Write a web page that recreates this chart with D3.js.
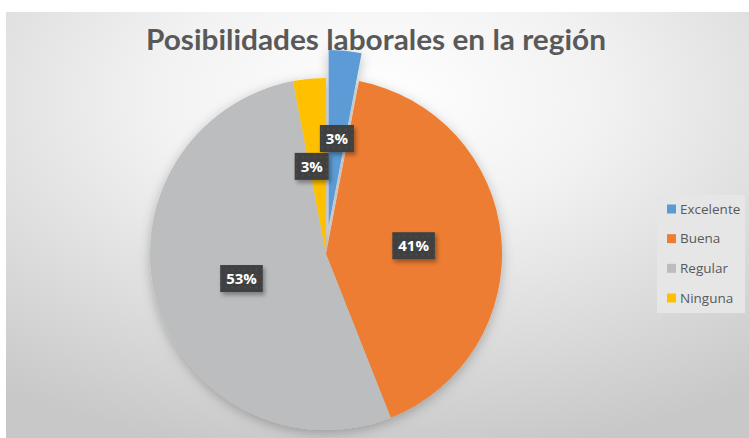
<!DOCTYPE html>
<meta charset="utf-8">
<style>
body { margin: 0; background: #fff; }
.title { font: bold 28px "Lato", sans-serif; fill: #595959; }
.lbl { font: bold 15px "Open Sans", sans-serif; fill: #fff; }
.legend text { font: 13.5px "Open Sans", sans-serif; fill: #595959; }
</style>
<body>
<svg id="chart" width="749" height="438"></svg>
<script src="https://d3js.org/d3.v7.min.js"></script>
<script>

var categories = ["Excelente", "Buena", "Regular", "Ninguna"];
var values = [3, 41, 53, 3];
var colors = ["#5b9bd5", "#ed7d31", "#bcbdbe", "#ffc000"];
var title = "Posibilidades laborales en la región";
var explodedCat = "Excelente";

var W = 749, H = 438;
var cx = 326, cy = 254, R = 176, explode = 28;

var data = categories.map(function(c, i) { return {cat: c, value: values[i]}; });
var total = d3.sum(values);
var color = d3.scaleOrdinal().domain(categories).range(colors);

var svg = d3.select("#chart");
var defs = svg.append("defs");

// background gradient like the Excel chart style
var grad = defs.append("radialGradient")
    .attr("id", "bg")
    .attr("cx", "0.5").attr("cy", "0.2").attr("r", "0.85");
grad.append("stop").attr("offset", "0").attr("stop-color", "#ffffff");
grad.append("stop").attr("offset", "0.35").attr("stop-color", "#f2f2f2");
grad.append("stop").attr("offset", "1").attr("stop-color", "#c8c8c8");

var shadow = defs.append("filter").attr("id", "pieShadow")
    .attr("x", "-20%").attr("y", "-20%").attr("width", "140%").attr("height", "140%");
shadow.append("feDropShadow").attr("dx", 0).attr("dy", 3).attr("stdDeviation", 6)
    .attr("flood-color", "#000").attr("flood-opacity", 0.25);

var lblShadow = defs.append("filter").attr("id", "lblShadow")
    .attr("x", "-30%").attr("y", "-30%").attr("width", "160%").attr("height", "170%");
lblShadow.append("feDropShadow").attr("dx", 2).attr("dy", 3).attr("stdDeviation", 2)
    .attr("flood-color", "#000").attr("flood-opacity", 0.35);

var dots = defs.append("pattern").attr("id", "dots")
    .attr("width", 6).attr("height", 6).attr("patternUnits", "userSpaceOnUse");
dots.append("rect").attr("width", 6).attr("height", 6).attr("fill", "#404040");
dots.append("circle").attr("cx", 3).attr("cy", 3).attr("r", 0.9).attr("fill", "#4f4f4f");

svg.append("rect")
    .attr("x", 6).attr("y", 12)
    .attr("width", W - 6).attr("height", H - 12)
    .attr("fill", "url(#bg)");

svg.append("text")
    .attr("class", "title")
    .attr("x", 376).attr("y", 50)
    .attr("text-anchor", "middle")
    .attr("textLength", 460)
    .attr("lengthAdjust", "spacingAndGlyphs")
    .text(title);

var pie = d3.pie().sort(null).value(function(d) { return d.value; });
var arcs = pie(data);
var arc = d3.arc().innerRadius(0).outerRadius(R);

function offset(d) {
  if (d.data.cat !== explodedCat) return [0, 0];
  var a = (d.startAngle + d.endAngle) / 2;
  return [explode * Math.sin(a), -explode * Math.cos(a)];
}

var g = svg.append("g")
    .attr("transform", "translate(" + cx + "," + cy + ")");

g.append("g").attr("filter", "url(#pieShadow)")
  .selectAll("path")
    .data(arcs)
  .enter().append("path")
    .attr("d", arc)
    .attr("transform", function(d) { return "translate(" + offset(d) + ")"; })
    .attr("fill", function(d) { return color(d.data.cat); });

var labels = g.selectAll(".label")
    .data(arcs)
  .enter().append("g")
    .attr("class", "label")
    .attr("transform", function(d) {
      var c = arc.centroid(d), o = offset(d);
      // small neighbouring slices near the top: push the left one aside a bit
      var nudge = (d.endAngle - d.startAngle < 0.3 && c[0] < 0) ? -6 : 0;
      return "translate(" + (c[0] + o[0] + nudge) + "," + (c[1] + o[1]) + ")";
    });

labels.append("rect").attr("class", "box");
labels.append("text")
    .attr("class", "lbl")
    .attr("text-anchor", "middle")
    .attr("dy", "0.36em")
    .text(function(d) { return Math.round(d.data.value / total * 100) + "%"; });

labels.each(function() {
  var gg = d3.select(this);
  var tw = gg.select("text").node().getComputedTextLength();
  gg.select("rect")
    .attr("x", -(tw + 12) / 2).attr("y", -13.5)
    .attr("width", tw + 12).attr("height", 27)
    .attr("fill", "url(#dots)")
    .attr("filter", "url(#lblShadow)");
});

// legend
var legend = svg.append("g").attr("class", "legend");
legend.append("rect")
    .attr("x", 657).attr("y", 195)
    .attr("width", 88).attr("height", 118)
    .attr("fill", "#e6e6e6");

var ly = d3.scalePoint().domain(categories).range([209, 298]);

var items = legend.selectAll(".item")
    .data(categories)
  .enter().append("g")
    .attr("class", "item")
    .attr("transform", function(d) { return "translate(667," + ly(d) + ")"; });

items.append("rect")
    .attr("x", 0).attr("y", -4.5)
    .attr("width", 9).attr("height", 9)
    .attr("fill", function(d) { return color(d); });

items.append("text")
    .attr("x", 13).attr("dy", "0.35em")
    .text(function(d) { return d; });

</script>
